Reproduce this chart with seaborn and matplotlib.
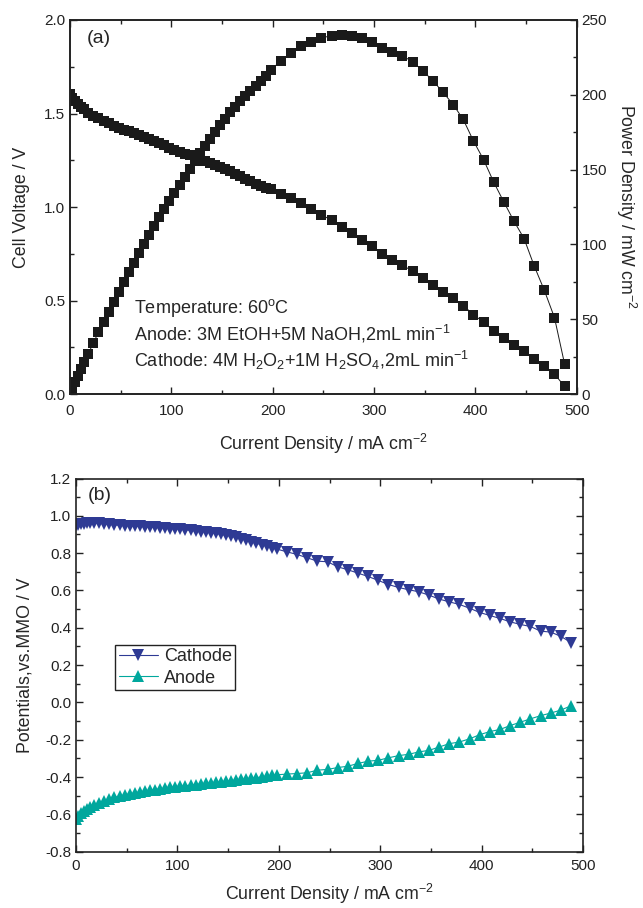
import matplotlib
matplotlib.use("Agg")
import matplotlib.pyplot as plt
import seaborn as sns
from matplotlib.ticker import MultipleLocator

# current density, mA cm-2 (shared by both panels)
current = [0, 2, 5, 8, 11, 14, 18, 23, 28, 33, 38, 43, 48, 53, 58, 63, 68, 73,
           78, 83, 88, 93, 98, 103, 108, 113, 118, 123, 128, 133, 138, 143, 148,
           153, 158, 163, 168, 173, 178, 183, 188, 193, 198, 208, 218, 228, 238,
           248, 258, 268, 278, 288, 298, 308, 318, 328, 338, 348, 358, 368, 378,
           388, 398, 408, 418, 428, 438, 448, 458, 468, 478, 488]

# panel (a)
cell_voltage = [1.602, 1.585, 1.566, 1.550, 1.535, 1.522, 1.503, 1.489, 1.474,
                1.461, 1.447, 1.434, 1.423, 1.413, 1.404, 1.395, 1.386, 1.377,
                1.366, 1.355, 1.344, 1.332, 1.318, 1.306, 1.294, 1.285, 1.276,
                1.267, 1.258, 1.248, 1.237, 1.226, 1.214, 1.203, 1.191, 1.178,
                1.165, 1.152, 1.138, 1.124, 1.112, 1.102, 1.094, 1.070, 1.047,
                1.020, 0.990, 0.960, 0.928, 0.892, 0.862, 0.826, 0.790, 0.751,
                0.719, 0.689, 0.657, 0.621, 0.585, 0.548, 0.512, 0.473, 0.425,
                0.384, 0.339, 0.300, 0.264, 0.232, 0.187, 0.148, 0.107, 0.041]

power_density = [0.0, 3.2, 7.8, 12.4, 16.9, 21.3, 27.1, 34.2, 41.3, 48.2, 55.0,
                 61.7, 68.3, 74.9, 81.4, 87.9, 94.2, 100.5, 106.5, 112.5, 118.3,
                 123.9, 129.2, 134.5, 139.8, 145.2, 150.6, 155.8, 161.0, 166.0,
                 170.7, 175.3, 179.7, 184.1, 188.2, 192.0, 195.7, 199.3, 202.6,
                 205.7, 209.1, 212.7, 216.6, 222.6, 228.2, 232.6, 235.6, 238.1,
                 239.4, 239.8, 239.6, 237.9, 235.4, 231.3, 228.6, 226.0, 222.1,
                 216.1, 209.4, 201.7, 193.5, 183.5, 169.2, 156.7, 141.7, 128.4,
                 115.6, 103.9, 85.6, 69.3, 51.1, 20.0]

# panel (b)
cathode_potential = [0.950, 0.953, 0.956, 0.958, 0.960, 0.961, 0.961, 0.960,
                     0.957, 0.954, 0.951, 0.949, 0.947, 0.946, 0.944, 0.943,
                     0.941, 0.939, 0.938, 0.936, 0.934, 0.932, 0.930, 0.928,
                     0.925, 0.922, 0.919, 0.916, 0.913, 0.910, 0.906, 0.901,
                     0.896, 0.890, 0.884, 0.877, 0.869, 0.861, 0.853, 0.845,
                     0.838, 0.830, 0.822, 0.807, 0.793, 0.775, 0.757, 0.754,
                     0.727, 0.711, 0.693, 0.675, 0.654, 0.632, 0.616, 0.604,
                     0.593, 0.575, 0.554, 0.539, 0.525, 0.505, 0.482, 0.466,
                     0.450, 0.432, 0.418, 0.407, 0.382, 0.377, 0.354, 0.321]

anode_potential = [-0.625, -0.610, -0.595, -0.582, -0.570, -0.560, -0.550,
                   -0.537, -0.526, -0.517, -0.509, -0.502, -0.496, -0.490,
                   -0.485, -0.480, -0.475, -0.471, -0.467, -0.463, -0.459,
                   -0.455, -0.452, -0.449, -0.446, -0.443, -0.440, -0.437,
                   -0.434, -0.431, -0.428, -0.425, -0.422, -0.419, -0.416,
                   -0.413, -0.410, -0.406, -0.403, -0.399, -0.395, -0.391,
                   -0.388, -0.384, -0.381, -0.377, -0.363, -0.359, -0.349,
                   -0.342, -0.327, -0.315, -0.310, -0.297, -0.285, -0.278,
                   -0.265, -0.257, -0.239, -0.221, -0.212, -0.195, -0.173,
                   -0.156, -0.145, -0.124, -0.106, -0.088, -0.071, -0.057,
                   -0.041, -0.018]

conditions = ["Temperature: 60$^{o}$C",
              "Anode: 3M EtOH+5M NaOH,2mL min$^{-1}$",
              "Cathode: 4M H$_2$O$_2$+1M H$_2$SO$_4$,2mL min$^{-1}$"]

sns.set_style("ticks")
plt.rcParams['font.family'] = ['Liberation Sans', 'DejaVu Sans']
plt.rcParams['mathtext.default'] = 'regular'
plt.rcParams['axes.unicode_minus'] = False
plt.rcParams['axes.linewidth'] = 1.2
plt.rcParams['axes.edgecolor'] = '#222222'

TICK_FS = 11
LABEL_FS = 12.8
NAVY = '#2e3a94'
TEAL = '#00a79d'


def style_ticks(ax, right=True):
    ax.tick_params(which='both', direction='in', top=True, right=right,
                   labelsize=TICK_FS, colors='#222222', width=1)
    ax.tick_params(which='major', length=5)
    ax.tick_params(which='minor', length=3)


fig = plt.figure(figsize=(6.43, 9.08), dpi=100)

# ---- (a) polarization and power density ----
ax1 = fig.add_axes([0.109, 0.566, 0.788, 0.412])
ax2 = ax1.twinx()
sq = dict(marker='s', markersize=6.5, markeredgewidth=0, color='#1a1a1a',
          linewidth=0.7)
sns.lineplot(x=current, y=cell_voltage, ax=ax1, **sq)
sns.lineplot(x=current, y=power_density, ax=ax2, **sq)
ax1.set_xlim(0, 500)
ax1.set_ylim(0, 2.0)
ax2.set_ylim(0, 250)
ax1.xaxis.set_major_locator(MultipleLocator(100))
ax1.xaxis.set_minor_locator(MultipleLocator(50))
ax1.yaxis.set_major_locator(MultipleLocator(0.5))
ax1.yaxis.set_minor_locator(MultipleLocator(0.25))
ax2.yaxis.set_major_locator(MultipleLocator(50))
ax2.yaxis.set_minor_locator(MultipleLocator(25))
style_ticks(ax1, right=False)
ax1.tick_params(axis='x', pad=7)
ax2.tick_params(which='both', direction='in', labelsize=TICK_FS,
                colors='#222222', width=1, top=False)
ax2.tick_params(which='major', length=5)
ax2.tick_params(which='minor', length=3)
ax1.set_xlabel("Current Density / mA cm$^{-2}$", fontsize=LABEL_FS, labelpad=10)
ax1.set_ylabel("Cell Voltage / V", fontsize=LABEL_FS, labelpad=10)
ax2.set_ylabel("Power Density / mW cm$^{-2}$", fontsize=LABEL_FS,
               rotation=270, labelpad=22)
ax1.text(28, 1.90, "(a)", fontsize=14, ha='center', va='center')
for txt, yv in zip(conditions, [0.46, 0.32, 0.18]):
    ax1.text(63, yv, txt, fontsize=13, ha='left', va='center')

# ---- (b) electrode potentials ----
ax3 = fig.add_axes([0.118, 0.062, 0.789, 0.411])
sns.lineplot(x=current, y=cathode_potential, ax=ax3, marker='v',
             markersize=9, markeredgewidth=0, color=NAVY, linewidth=0.8,
             label='Cathode')
sns.lineplot(x=current, y=anode_potential, ax=ax3, marker='^',
             markersize=9, markeredgewidth=0, color=TEAL, linewidth=0.8,
             label='Anode')
ax3.set_xlim(0, 500)
ax3.set_ylim(-0.8, 1.2)
ax3.xaxis.set_major_locator(MultipleLocator(100))
ax3.xaxis.set_minor_locator(MultipleLocator(50))
ax3.yaxis.set_major_locator(MultipleLocator(0.2))
ax3.yaxis.set_minor_locator(MultipleLocator(0.1))
style_ticks(ax3)
ax3.tick_params(axis='x', pad=5)
ax3.set_xlabel("Current Density / mA cm$^{-2}$", fontsize=LABEL_FS, labelpad=7)
ax3.set_ylabel("Potentials,vs.MMO / V", fontsize=LABEL_FS, labelpad=8)
ax3.text(24, 1.11, "(b)", fontsize=14, ha='center', va='center')
leg = ax3.legend(loc='upper left', bbox_to_anchor=(0.077, 0.555),
                 fontsize=13, frameon=True, fancybox=False,
                 edgecolor='#222222', framealpha=1, borderpad=0.2,
                 labelspacing=0.25, handlelength=2.2, handletextpad=0.3,
                 borderaxespad=0)
leg.get_frame().set_linewidth(1)

fig.savefig("out.png", dpi=100)
